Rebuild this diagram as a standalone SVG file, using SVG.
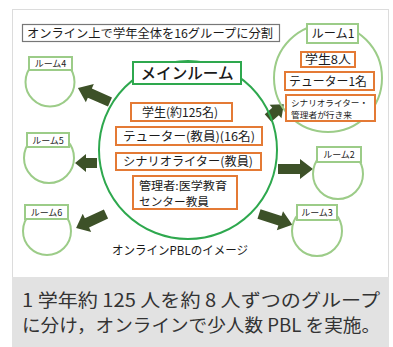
<svg xmlns="http://www.w3.org/2000/svg" width="393" height="347" viewBox="0 0 393 347">
<style>
text{font-family:"Noto Sans CJK JP","Noto Sans",sans-serif;fill:#1a1a1a}
.ob{fill:#fff;stroke:#e47a35;stroke-width:2}
.sr{fill:#fff;stroke:#9ccc88;stroke-width:2}
.arr{fill:#3d5128}
.c12{font-size:12px}
.c9{font-size:9px}
</style>
<rect x="12.5" y="9.5" width="376" height="340" fill="#fff" stroke="#dcdcdc"/>
<rect x="12" y="277" width="377" height="70" fill="#e2e2e2"/>

<g id="title">
<rect x="22.5" y="24.5" width="257" height="17" fill="#fff" stroke="#777" stroke-width="1.2"/>
<text x="27" y="37.5" font-size="12" textLength="246" lengthAdjust="spacingAndGlyphs">オンライン上で学年全体を16グループに分割</text>
</g>

<g id="connectors">
<path class="arr" d="M0,-5H22V-10L35,0L22,10V5H0Z" transform="translate(110,102) rotate(203.6)"/>
<path class="arr" d="M0,-5H11V-9L22,0L11,9V5H0Z" transform="translate(97,163) rotate(180)"/>
<path class="arr" d="M0,-5H21V-10L33,0L21,10V5H0Z" transform="translate(106,214) rotate(155)"/>
<path class="arr" d="M0,-5H10V-9L21,0L10,9V5H0Z" transform="translate(268,118) rotate(-41)"/>
<path class="arr" d="M0,-5H22V-10L35,0L22,10V5H0Z" transform="translate(278,169)"/>
<path class="arr" d="M0,-5H22V-10L35,0L22,10V5H0Z" transform="translate(259,214) rotate(18)"/>
</g>

<g id="main-room">
<circle cx="188" cy="150" r="89" fill="none" stroke="#2ea84e" stroke-width="2"/>
<rect x="133" y="62" width="108" height="22" fill="#fff" stroke="#2ea84e" stroke-width="2"/>
<text x="187" y="79" font-size="16" font-weight="500" text-anchor="middle" textLength="93" lengthAdjust="spacingAndGlyphs">メインルーム</text>
<rect class="ob" x="131" y="103" width="101" height="18"/>
<text class="c12" x="180" y="116.5" text-anchor="middle" textLength="76" lengthAdjust="spacingAndGlyphs">学生(約125名)</text>
<rect class="ob" x="116" y="127" width="146" height="18"/>
<text class="c12" x="189" y="140.5" text-anchor="middle" textLength="132" lengthAdjust="spacingAndGlyphs">テューター(教員)(16名)</text>
<rect class="ob" x="116" y="153" width="145" height="17"/>
<text class="c12" x="188" y="166" text-anchor="middle" textLength="130" lengthAdjust="spacingAndGlyphs">シナリオライター(教員)</text>
<rect class="ob" x="133" y="176" width="104" height="33"/>
<text x="139" y="189.5" font-size="11.5" textLength="88" lengthAdjust="spacingAndGlyphs">管理者:医学教育</text>
<text x="139" y="205.5" font-size="11.5" textLength="70" lengthAdjust="spacingAndGlyphs">センター教員</text>
<text x="180" y="255" font-size="12" text-anchor="middle" textLength="136" lengthAdjust="spacingAndGlyphs">オンラインPBLのイメージ</text>
</g>

<g id="room1">
<circle cx="328" cy="78" r="54" fill="none" stroke="#9ccc88" stroke-width="2"/>
<rect class="sr" x="307" y="24" width="51" height="19"/>
<text x="333" y="38" font-size="12" text-anchor="middle" textLength="43" lengthAdjust="spacingAndGlyphs">ルーム1</text>
<rect class="ob" x="301" y="52" width="54" height="15"/>
<text class="c12" x="328" y="64" text-anchor="middle" textLength="46" lengthAdjust="spacingAndGlyphs">学生8人</text>
<rect class="ob" x="285" y="72" width="89" height="18"/>
<text class="c12" x="328" y="85.5" text-anchor="middle" textLength="78" lengthAdjust="spacingAndGlyphs">テューター1名</text>
<rect class="ob" x="286" y="95" width="89" height="26"/>
<text x="291" y="105.5" font-size="8.5" textLength="77" lengthAdjust="spacingAndGlyphs">シナリオライター・</text>
<text x="291" y="117.5" font-size="8.5" textLength="61" lengthAdjust="spacingAndGlyphs">管理者が行き来</text>
</g>

<g id="room2">
<circle cx="338" cy="174" r="25" class="sr"/>
<rect class="sr" x="317" y="147" width="44" height="15"/>
<text class="c9" x="339" y="158" text-anchor="middle">ルーム2</text>
</g>
<g id="room3">
<circle cx="317" cy="231" r="25" class="sr"/>
<rect class="sr" x="297" y="205" width="40" height="15"/>
<text class="c9" x="317" y="216" text-anchor="middle">ルーム3</text>
</g>
<g id="room4">
<circle cx="50" cy="82" r="24.5" class="sr"/>
<rect class="sr" x="29" y="57" width="43" height="13"/>
<text class="c9" x="50.5" y="67" text-anchor="middle">ルーム4</text>
</g>
<g id="room5">
<circle cx="49" cy="158" r="25" class="sr"/>
<rect class="sr" x="27" y="133" width="42" height="14"/>
<text class="c9" x="48" y="143.5" text-anchor="middle">ルーム5</text>
</g>
<g id="room6">
<circle cx="47" cy="231" r="24" class="sr"/>
<rect class="sr" x="25" y="205" width="43" height="14"/>
<text class="c9" x="46.5" y="215.5" text-anchor="middle">ルーム6</text>
</g>

<g id="caption">
<text x="22" y="307" font-size="18" style="fill:#333" textLength="358" lengthAdjust="spacingAndGlyphs">1 学年約 125 人を約 8 人ずつのグループ</text>
<text x="22" y="332" font-size="18" style="fill:#333" textLength="358" lengthAdjust="spacingAndGlyphs">に分け，オンラインで少人数 PBL を実施。</text>
</g>
</svg>
